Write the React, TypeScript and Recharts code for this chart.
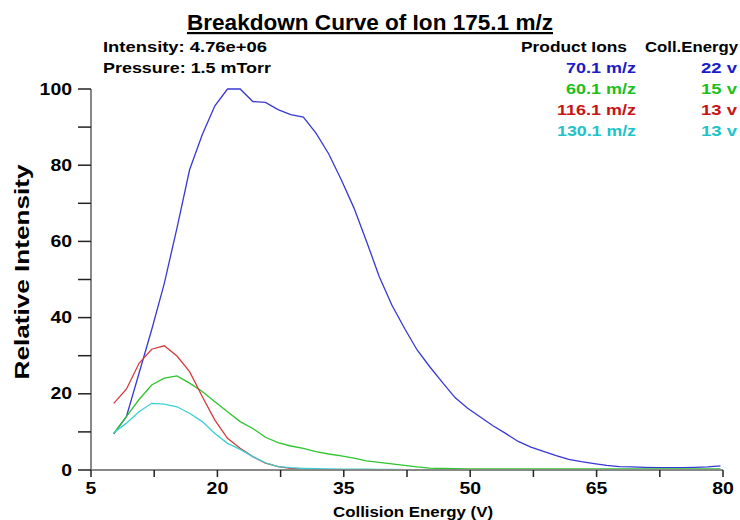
import React from "react";
import { LineChart, Line, XAxis, YAxis } from "recharts";

const energies = [7.7, 9.2, 10.7, 12.2, 13.7, 15.2, 16.7, 18.2, 19.7, 21.2, 22.7, 24.2, 25.7, 27.2, 28.7, 30.2, 31.7, 33.2, 34.7, 36.2, 37.7, 39.2, 40.7, 42.2, 43.7, 45.2, 46.7, 48.2, 49.7, 51.2, 52.7, 54.2, 55.7, 57.2, 58.7, 60.2, 61.7, 63.2, 64.7, 66.2, 67.7, 69.2, 70.7, 72.2, 73.7, 75.2, 76.7, 78.2, 79.7];
const ion70 = [9.5, 14.0, 25.4, 36.8, 49.0, 63.5, 78.8, 88.0, 95.6, 100, 100, 96.7, 96.5, 94.6, 93.3, 92.6, 88.4, 83.0, 76.2, 68.8, 60.0, 50.8, 43.3, 37.2, 31.5, 27.1, 23.0, 19.0, 16.2, 13.9, 11.6, 9.6, 7.5, 6.0, 4.9, 3.8, 2.8, 2.2, 1.7, 1.2, 0.9, 0.8, 0.7, 0.6, 0.6, 0.6, 0.7, 0.8, 1.1];
const ion60 = [9.6, 14.0, 18.5, 22.3, 24.1, 24.7, 22.8, 20.6, 17.9, 15.3, 12.7, 10.9, 8.6, 7.2, 6.3, 5.7, 4.8, 4.2, 3.7, 3.1, 2.4, 2.0, 1.6, 1.2, 0.8, 0.5, 0.4, 0.35, 0.3, 0.3, 0.3, 0.3, 0.3, 0.3, 0.3, 0.3, 0.3, 0.3, 0.3, 0.3, 0.3, 0.3, 0.3, 0.3, 0.3, 0.3, 0.3, 0.3, 0.3];
const ion116 = [17.5, 21.2, 28.0, 31.7, 32.6, 29.9, 25.8, 19.3, 13.1, 8.3, 5.7, 3.5, 1.8, 0.9, 0.4, 0.2, 0.1, 0.05, 0, 0, 0, 0, 0, 0, 0, 0, 0, 0, 0, 0, 0, 0, 0, 0, 0, 0, 0, 0, 0, 0, 0, 0, 0, 0, 0, 0, 0, 0, 0];
const ion130 = [9.8, 12.3, 15.3, 17.5, 17.3, 16.6, 14.9, 12.7, 9.6, 7.0, 5.4, 3.5, 1.9, 0.9, 0.6, 0.45, 0.35, 0.3, 0.25, 0.2, 0.2, 0.15, 0.15, 0.1, 0.1, 0.1, 0.1, 0.1, 0.1, 0.1, 0.1, 0.1, 0.1, 0.1, 0.1, 0.1, 0.1, 0.1, 0.1, 0.1, 0.1, 0.1, 0.1, 0.1, 0.1, 0.1, 0.1, 0.1, 0.1];

const xTicks = [5, 12.5, 20, 27.5, 35, 42.5, 50, 57.5, 65, 72.5, 80];
const xLabeled = [5, 20, 35, 50, 65, 80];
const yTicks = [0, 10, 20, 30, 40, 50, 60, 70, 80, 90, 100];
const yLabeled = [0, 20, 40, 60, 80, 100];

const titleText = "Breakdown Curve of Ion 175.1 m/z";
const infoLines = ["Intensity: 4.76e+06", "Pressure: 1.5 mTorr"];
const infoWidths = [164, 168];
const legendIons = ["70.1 m/z", "60.1 m/z", "116.1 m/z", "130.1 m/z"];
const legendIonWidths = [70, 70, 79, 79];
const legendEnergies = ["22 v", "15 v", "13 v", "13 v"];
const seriesKeys = ["ion70", "ion60", "ion116", "ion130"];
const lineColors = ["#3838d4", "#2ec52e", "#d43c3c", "#3ccfd2"];
const textColors = ["#1c1cc8", "#1cbf1c", "#c81414", "#1cc4c8"];

const data = energies.map((x, i) => ({
  x,
  ion70: ion70[i],
  ion60: ion60[i],
  ion116: ion116[i],
  ion130: ion130[i],
}));

const FONT = "'Liberation Sans', Arial, sans-serif";

function makeTick(labeled: number[], dy: string) {
  return (props: any) => {
    const { x, y, payload, textAnchor } = props;
    const v = payload.value;
    if (!labeled.includes(v)) return <g />;
    const s = String(v);
    return (
      <text
        x={x}
        y={y}
        dy={dy}
        textAnchor={textAnchor}
        fontFamily={FONT}
        fontWeight={700}
        fontSize={16}
        fill="#000"
        textLength={s.length * 10.8}
        lengthAdjust="spacingAndGlyphs"
      >
        {s}
      </text>
    );
  };
}

const XTick = makeTick(xLabeled, "0.71em");
const YTick = makeTick(yLabeled, "0.355em");

export default function App() {
  const W = 732;
  const H = 512;
  return (
    <div style={{ position: "absolute", width: W, height: H, fontFamily: FONT }}>
      <LineChart width={W} height={H} data={data} margin={{ top: 81, right: 17, bottom: 0, left: 0 }}>
        <XAxis
          type="number"
          dataKey="x"
          domain={[5, 80]}
          ticks={xTicks}
          interval={0}
          height={50}
          tickSize={7}
          tickMargin={6}
          axisLine={{ stroke: "#888", strokeWidth: 2 }}
          tickLine={{ stroke: "#222", strokeWidth: 1.5 }}
          tick={XTick}
        />
        <YAxis
          type="number"
          domain={[0, 100]}
          ticks={yTicks}
          interval={0}
          width={83}
          tickSize={13}
          tickMargin={6}
          axisLine={{ stroke: "#888", strokeWidth: 2 }}
          tickLine={{ stroke: "#222", strokeWidth: 1.5 }}
          tick={YTick}
        />
        {seriesKeys.map((k, i) => (
          <Line
            key={k}
            type="linear"
            dataKey={k}
            stroke={lineColors[i]}
            strokeWidth={1.3}
            dot={false}
            activeDot={false}
            isAnimationActive={false}
          />
        ))}
      </LineChart>
      <svg
        width={W}
        height={H}
        style={{ position: "absolute", left: 0, top: 0, pointerEvents: "none" }}
        fontFamily={FONT}
        fontWeight={700}
      >
        <text x={362} y={22} fontSize={22} textAnchor="middle" textDecoration="underline" fill="#000" textLength={366} lengthAdjust="spacingAndGlyphs">
          {titleText}
        </text>
        {infoLines.map((t, i) => (
          <text key={t} x={95} y={44 + i * 21} fontSize={15} fill="#000" textLength={infoWidths[i]} lengthAdjust="spacingAndGlyphs">
            {t}
          </text>
        ))}
        <text x={619} y={44} fontSize={15} textAnchor="end" fill="#000" textLength={106} lengthAdjust="spacingAndGlyphs">Product Ions</text>
        <text x={730} y={44} fontSize={15} textAnchor="end" fill="#000" textLength={93} lengthAdjust="spacingAndGlyphs">Coll.Energy</text>
        {legendIons.map((t, i) => (
          <text key={t} x={628} y={65 + i * 21} fontSize={15} textAnchor="end" fill={textColors[i]} textLength={legendIonWidths[i]} lengthAdjust="spacingAndGlyphs">
            {t}
          </text>
        ))}
        {legendEnergies.map((t, i) => (
          <text key={i} x={729} y={65 + i * 21} fontSize={15} textAnchor="end" fill={textColors[i]} textLength={36} lengthAdjust="spacingAndGlyphs">
            {t}
          </text>
        ))}
        <text
          x={13}
          y={264}
          fontSize={21}
          textAnchor="middle"
          dominantBaseline="central"
          transform="rotate(-90 13 264)"
          fill="#000"
          textLength={215}
          lengthAdjust="spacingAndGlyphs"
        >
          Relative Intensity
        </text>
        <text x={405} y={503} fontSize={15} textAnchor="middle" dominantBaseline="central" fill="#000" textLength={160} lengthAdjust="spacingAndGlyphs">
          Collision Energy (V)
        </text>
      </svg>
    </div>
  );
}
